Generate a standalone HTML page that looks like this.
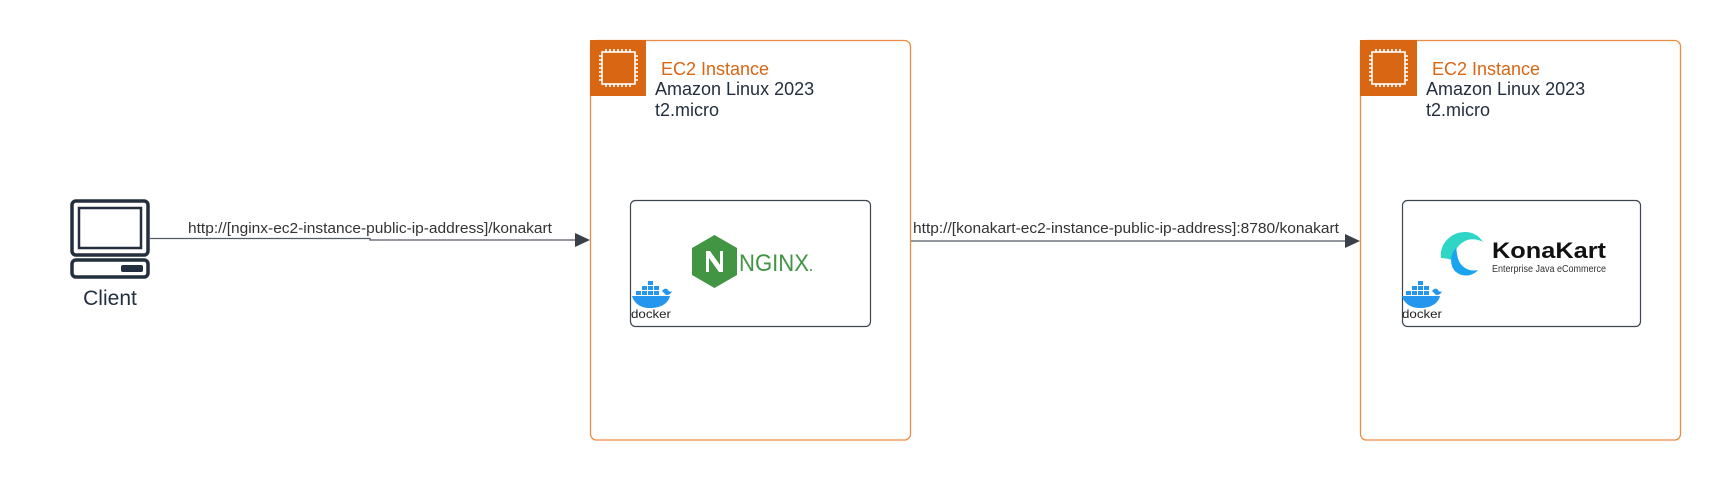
<!DOCTYPE html>
<html><head><meta charset="utf-8"><style>
html,body{margin:0;padding:0;background:#fff;}
svg{display:block;}
text{font-family:"Liberation Sans",Arial,sans-serif;}
</style></head><body>
<svg width="1722" height="480" viewBox="0 0 1722 480" xmlns="http://www.w3.org/2000/svg">
<rect width="1722" height="480" fill="#fff"/>
<!-- Client icon -->
<rect x="72" y="201" width="76" height="54" rx="4" fill="none" stroke="#232f3e" stroke-width="3.5"/>
<rect x="79" y="208" width="62" height="40" fill="none" stroke="#232f3e" stroke-width="2.5"/>
<rect x="72" y="260" width="76" height="17" rx="4" fill="none" stroke="#232f3e" stroke-width="3.5"/>
<rect x="121" y="265" width="22" height="7" rx="2" fill="#232f3e"/>
<text x="110" y="305" font-size="21" fill="#232f3e" text-anchor="middle">Client</text>

<!-- Arrow 1 -->
<path d="M150 238.5 H370 V240 H576" fill="none" stroke="#555b63" stroke-width="1.3"/>
<polygon points="575,233 590,240 575,247" fill="#3b4048"/>
<text x="370" y="233" font-size="15" fill="#333" text-anchor="middle" textLength="364" lengthAdjust="spacingAndGlyphs">http://[nginx-ec2-instance-public-ip-address]/konakart</text>

<!-- Arrow 2 -->
<path d="M911 241 H1346" fill="none" stroke="#555b63" stroke-width="1.3"/>
<polygon points="1345,234 1360,241 1345,248" fill="#3b4048"/>
<text x="1126" y="233" font-size="15" fill="#333" text-anchor="middle" textLength="426" lengthAdjust="spacingAndGlyphs">http://[konakart-ec2-instance-public-ip-address]:8780/konakart</text>

<!-- EC2 box 1 -->
<g>
<rect x="590.5" y="40.5" width="320" height="399.5" rx="6" fill="none" stroke="#ed8b45" stroke-width="1.3"/>
<rect x="590" y="40" width="56" height="56" fill="#d86613"/>
<g fill="none" stroke="#fff" stroke-width="1.6">
<rect x="602" y="52" width="33" height="32"/>
<path d="M606 49v3M610 49v3M614 49v3M618 49v3M622 49v3M626 49v3M630 49v3M606 84v3M610 84v3M614 84v3M618 84v3M622 84v3M626 84v3M630 84v3M599 56h3M599 60h3M599 64h3M599 68h3M599 72h3M599 76h3M599 80h3M635 56h3M635 60h3M635 64h3M635 68h3M635 72h3M635 76h3M635 80h3"/>
</g>
<text x="661" y="75" font-size="18" fill="#d86613">EC2 Instance</text>
<text x="655" y="95" font-size="18" fill="#232f3e">Amazon Linux 2023</text>
<text x="655" y="116" font-size="18" fill="#232f3e">t2.micro</text>
<rect x="630.5" y="200.5" width="240" height="126" rx="5" fill="#fff" stroke="#3d4550" stroke-width="1.2"/>
<polygon points="714.5,235 737,248 737,275 714.5,288 692,275 692,248" fill="#429543"/>
<path d="M706 272V251h4l10 14V251h3v21h-4l-10-14v14z" fill="#fff"/>
<text x="739" y="271" font-size="24" fill="#429543" textLength="70" lengthAdjust="spacingAndGlyphs">NGINX</text>
<circle cx="811" cy="270" r="1" fill="#429543"/>
<!-- docker -->
<g>
<rect x="648" y="281" width="5" height="4" fill="#2496ed"/>
<rect x="642" y="286" width="5" height="4" fill="#2496ed"/><rect x="648" y="286" width="5" height="4" fill="#2496ed"/><rect x="654" y="286" width="5" height="4" fill="#2496ed"/>
<rect x="636" y="291" width="5" height="4" fill="#2496ed"/><rect x="642" y="291" width="5" height="4" fill="#2496ed"/><rect x="648" y="291" width="5" height="4" fill="#2496ed"/><rect x="654" y="291" width="5" height="4" fill="#2496ed"/>
<path d="M632 296h38c-2 8-10 12-20 12c-10 0-16-5-18-12z" fill="#2496ed"/>
<path d="M662 291c2-3 5-3 6-1c1 2 3 2 4 1c-1 3-3 4-6 4z" fill="#2496ed"/>
<text x="631" y="318" font-size="12" fill="#222" textLength="40" lengthAdjust="spacingAndGlyphs">docker</text>
</g>
</g>

<!-- EC2 box 2 -->
<g>
<rect x="1360.5" y="40.5" width="320" height="399.5" rx="6" fill="none" stroke="#ed8b45" stroke-width="1.3"/>
<rect x="1360" y="40" width="57" height="56" fill="#d86613"/>
<g fill="none" stroke="#fff" stroke-width="1.6" transform="translate(770,0)">
<rect x="602" y="52" width="33" height="32"/>
<path d="M606 49v3M610 49v3M614 49v3M618 49v3M622 49v3M626 49v3M630 49v3M606 84v3M610 84v3M614 84v3M618 84v3M622 84v3M626 84v3M630 84v3M599 56h3M599 60h3M599 64h3M599 68h3M599 72h3M599 76h3M599 80h3M635 56h3M635 60h3M635 64h3M635 68h3M635 72h3M635 76h3M635 80h3"/>
</g>
<text x="1432" y="75" font-size="18" fill="#d86613">EC2 Instance</text>
<text x="1426" y="95" font-size="18" fill="#232f3e">Amazon Linux 2023</text>
<text x="1426" y="116" font-size="18" fill="#232f3e">t2.micro</text>
<rect x="1402.5" y="200.5" width="238" height="126" rx="5" fill="#fff" stroke="#3d4550" stroke-width="1.2"/>
<path d="M1441 258c-2-14 10-26 24-26c9 0 15 5 18 10c-5-3-12-4-18-1c-8 4-12 12-11 20c-4-2-9-3-13-3z" fill="#2fd6c6"/>
<path d="M1456 248c-6 6-7 18 0 24c6 5 16 5 22 -2c-8 2-16-2-19-9c-2-4-2-9-3-13z" fill="#1aa3ee"/>
<text x="1492" y="258" font-size="22" font-weight="bold" fill="#111" textLength="114" lengthAdjust="spacingAndGlyphs">KonaKart</text>
<text x="1492" y="272" font-size="10" fill="#333" textLength="114" lengthAdjust="spacingAndGlyphs">Enterprise Java eCommerce</text>
<g transform="translate(770,0)">
<rect x="648" y="281" width="5" height="4" fill="#2496ed"/>
<rect x="642" y="286" width="5" height="4" fill="#2496ed"/><rect x="648" y="286" width="5" height="4" fill="#2496ed"/><rect x="654" y="286" width="5" height="4" fill="#2496ed"/>
<rect x="636" y="291" width="5" height="4" fill="#2496ed"/><rect x="642" y="291" width="5" height="4" fill="#2496ed"/><rect x="648" y="291" width="5" height="4" fill="#2496ed"/><rect x="654" y="291" width="5" height="4" fill="#2496ed"/>
<path d="M632 296h38c-2 8-10 12-20 12c-10 0-16-5-18-12z" fill="#2496ed"/>
<path d="M662 291c2-3 5-3 6-1c1 2 3 2 4 1c-1 3-3 4-6 4z" fill="#2496ed"/>
<text x="632" y="318" font-size="12" fill="#222" textLength="40" lengthAdjust="spacingAndGlyphs">docker</text>
</g>
</g>
</svg>
</body></html>
